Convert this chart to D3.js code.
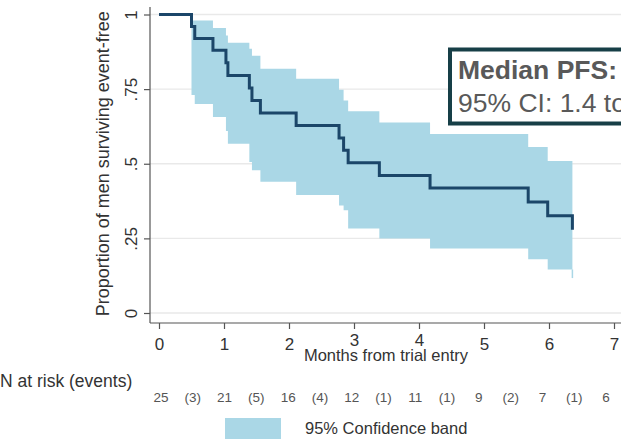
<!DOCTYPE html>
<html>
<head>
<meta charset="utf-8">
<script src="https://cdn.jsdelivr.net/npm/d3@7"></script>
<style>
  html, body { margin: 0; padding: 0; background: #fff; overflow: hidden; }
  svg { display: block; font-family: "Liberation Sans", Arial, sans-serif; }
</style>
</head>
<body>
<svg id="chart" width="621" height="439"></svg>
<script>
// ---- Data ----
const kmTimes    = [0, 0.5, 0.55, 0.83, 1.03, 1.06, 1.39, 1.43, 1.56, 2.11, 2.77, 2.84, 2.91, 3.39, 4.17, 5.68, 5.98, 6.36];
const kmSurvival = [1, 0.96, 0.92, 0.88, 0.838, 0.796, 0.754, 0.712, 0.67, 0.628, 0.586, 0.545, 0.503, 0.461, 0.419, 0.372, 0.326, 0.279];

const bandTimes = [0.5, 0.55, 0.83, 1.03, 1.06, 1.39, 1.43, 1.56, 2.11, 2.77, 2.84, 2.91, 3.39, 4.17, 5.68, 5.98, 6.36];
const bandUpper = [0.98, 0.98, 0.955, 0.93, 0.905, 0.885, 0.862, 0.818, 0.785, 0.748, 0.712, 0.676, 0.638, 0.60, 0.556, 0.509, 0.509];
const bandLower = [0.73, 0.70, 0.657, 0.61, 0.567, 0.506, 0.478, 0.44, 0.395, 0.36, 0.344, 0.283, 0.25, 0.216, 0.18, 0.146, 0.117];

const xTicks = [0, 1, 2, 3, 4, 5, 6, 7];
const yTicks = [0, 0.25, 0.5, 0.75, 1];
const yTickLabels = ["0", ".25", ".5", ".75", "1"];

const riskLabels = ["25", "(3)", "21", "(5)", "16", "(4)", "12", "(1)", "11", "(1)", "9", "(2)", "7", "(1)", "6"];

const medianLines = ["Median PFS:", "95% CI: 1.4 to"];
const legendLabel = "95% Confidence band";

// ---- Layout ----
const svg = d3.select("#chart");
const x = d3.scaleLinear().domain([0, 7]).range([159, 614]);
const y = d3.scaleLinear().domain([0, 1]).range([313, 14.5]);
const axisX0 = 150, axisY0 = 323;
const textColor = "#333333";
const bandColor = "#aad7e6";
const lineColor = "#1b4669";

// grid lines
svg.append("g").selectAll("line").data(yTicks).join("line")
  .attr("x1", axisX0).attr("x2", 621)
  .attr("y1", d => y(d)).attr("y2", d => y(d))
  .attr("stroke", "#e9e9e9").attr("stroke-width", 1.3);

// confidence band
const bandData = bandTimes.map((t, i) => ({ t, lo: bandLower[i], hi: bandUpper[i] }));
svg.append("path").datum(bandData)
  .attr("fill", bandColor)
  .attr("d", d3.area().curve(d3.curveStepAfter)
    .x(d => x(d.t)).y0(d => y(d.lo)).y1(d => y(d.hi)));
const lastBand = bandData[bandData.length - 1];
svg.append("line")
  .attr("x1", x(lastBand.t)).attr("x2", x(lastBand.t))
  .attr("y1", y(bandData[bandData.length - 2].lo)).attr("y2", y(lastBand.lo))
  .attr("stroke", bandColor).attr("stroke-width", 1.5);

// KM curve
const kmData = kmTimes.map((t, i) => ({ t, s: kmSurvival[i] }));
svg.append("path").datum(kmData)
  .attr("fill", "none").attr("stroke", lineColor).attr("stroke-width", 3)
  .attr("stroke-linejoin", "miter")
  .attr("d", d3.line().curve(d3.curveStepAfter).x(d => x(d.t)).y(d => y(d.s)));

// Y axis
const yAxis = d3.axisLeft(y).tickValues(yTicks).tickSize(6).tickFormat((d, i) => yTickLabels[i]);
const gy = svg.append("g").attr("transform", `translate(${axisX0},0)`).call(yAxis);
gy.select(".domain").attr("d", `M0,7V${axisY0}`).attr("stroke", "#555").attr("stroke-width", 1.2);
gy.selectAll(".tick line").attr("stroke", "#555").attr("stroke-width", 1.2);
gy.selectAll(".tick text")
  .attr("x", 0).attr("dy", null).attr("y", 0)
  .attr("transform", "translate(-13,0) rotate(-90)")
  .attr("text-anchor", "middle")
  .attr("fill", textColor).style("font-size", "17px")
  .attr("font-family", "Liberation Sans, Arial, sans-serif");

// X axis
const xAxis = d3.axisBottom(x).tickValues(xTicks).tickSize(6).tickFormat(d3.format("d"));
const gx = svg.append("g").attr("transform", `translate(0,${axisY0})`).call(xAxis);
gx.select(".domain").attr("d", `M${axisX0},0H621`).attr("stroke", "#555").attr("stroke-width", 1.2);
gx.selectAll(".tick line").attr("stroke", "#555").attr("stroke-width", 1.2);
gx.selectAll(".tick text")
  .attr("dy", null).attr("y", d => (d === 3 || d === 4) ? 23 : 27)
  .attr("fill", textColor).style("font-size", "17px")
  .attr("font-family", "Liberation Sans, Arial, sans-serif");

// axis titles
svg.append("text")
  .attr("transform", `translate(109,${(y(0) + y(1)) / 2}) rotate(-90)`)
  .attr("text-anchor", "middle").attr("fill", textColor).style("font-size", "18px")
  .text("Proportion of men surviving event-free");
svg.append("text")
  .attr("x", 386).attr("y", 361).attr("text-anchor", "middle")
  .attr("fill", textColor).style("font-size", "16.5px")
  .text("Months from trial entry");

// risk table
svg.append("text").attr("x", 0).attr("y", 387)
  .attr("fill", textColor).style("font-size", "17.5px").text("N at risk (events)");
const rx = d3.scalePoint().domain(d3.range(riskLabels.length)).range([161, 606]);
svg.append("g").selectAll("text").data(riskLabels).join("text")
  .attr("x", (d, i) => rx(i)).attr("y", 402).attr("text-anchor", "middle")
  .attr("fill", "#555").style("font-size", "13.5px").text(d => d);

// legend
svg.append("rect").attr("x", 225).attr("y", 418).attr("width", 56).attr("height", 30).attr("fill", bandColor);
svg.append("text").attr("x", 305).attr("y", 434).attr("fill", textColor)
  .style("font-size", "16.5px").text(legendLabel);

// median box
svg.append("rect").attr("x", 450).attr("y", 49.5).attr("width", 260).attr("height", 74)
  .attr("fill", "#fff").attr("stroke", "#173f47").attr("stroke-width", 4);
svg.append("text").attr("x", 458).attr("y", 79).attr("fill", "#595959")
  .style("font-size", "26.5px").style("font-weight", "bold").text(medianLines[0]);
svg.append("text").attr("x", 458).attr("y", 112).attr("fill", "#595959")
  .style("font-size", "26.5px").text(medianLines[1]);
</script>
</body>
</html>
